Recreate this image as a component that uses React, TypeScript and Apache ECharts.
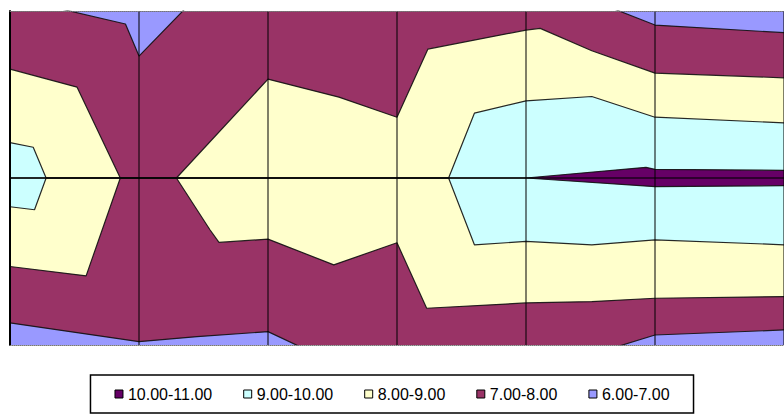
import React, { useEffect, useRef } from "react";
import * as echarts from "echarts";

// Contour bands (legend order) and their colours
const bandNames = ["10.00-11.00", "9.00-10.00", "8.00-9.00", "7.00-8.00", "6.00-7.00"];
const bandColors = ["#660066", "#CCFFFF", "#FFFFCC", "#993366", "#9999FF"];

// Contour boundary lines, [column, level] (level 0..100 from bottom to top of the surface)
const edge67Top = [[0, 102], [0.24, 102], [0.895, 96.1], [1, 86.5], [1.39, 102], [4.59, 102], [5, 95.8], [6, 93.5]];
const edge78Top = [[0, 82.6], [0.52, 77.2], [0.855, 50], [1.29, 50], [2, 79.6], [2.55, 74.2], [3, 68.2], [3.24, 88.6], [4, 94.3], [4.11, 94.8], [4.51, 88.1], [5, 81.4], [6, 80.0]];
const edge89Top = [[0, 60.6], [0.18, 59.2], [0.28, 50], [3.4, 50], [3.6, 69.4], [4, 73.1], [4.51, 74.4], [5, 68.2], [6, 66.5]];
const edge910Top = [[0, 50], [4, 50], [4.93, 53.2], [5, 52.6], [6, 52.3]];
const edge910Bot = [[0, 50], [4, 50], [5, 47.4], [6, 47.7]];
const edge89Bot = [[0, 41.4], [0.19, 40.5], [0.28, 50], [3.4, 50], [3.6, 30.0], [4, 31.0], [4.51, 30.0], [5, 31.5], [6, 30.0]];
const edge78Bot = [[0, 23.5], [0.59, 20.7], [0.855, 50], [1.29, 50], [1.55, 34.5], [1.62, 30.7], [2, 31.7], [2.51, 24.0], [3, 30.6], [3.23, 11.0], [4, 12.6], [4.51, 13.0], [5, 14.0], [6, 14.5]];
const edge67Bot = [[0, 6.6], [1, 1.0], [1.45, 2.5], [2, 4.0], [2.33, -2], [4.58, -2], [5, 3.0], [6, 4.5]];

// Painter's order: each edge fills downward with the band lying below it
const fillEdges = [edge67Top, edge78Top, edge89Top, edge910Top, edge910Bot, edge89Bot, edge78Bot, edge67Bot];
const fillBands = [3, 2, 1, 0, 1, 2, 3, 4];

export default function App() {
  const ref = useRef<HTMLDivElement>(null);
  useEffect(() => {
    document.body.style.margin = "0";
    const chart = echarts.init(ref.current!, null, { renderer: "svg" });
    const fills = fillEdges.map((edge, i) => ({
      type: "line",
      name: bandNames[fillBands[i]],
      data: edge,
      showSymbol: false,
      symbol: "none",
      silent: true,
      clip: true,
      z: 1,
      color: bandColors[fillBands[i]],
      itemStyle: { color: bandColors[fillBands[i]] },
      lineStyle: { width: 0, opacity: 0 },
      areaStyle: { color: bandColors[fillBands[i]], opacity: 1, origin: "start" },
    }));
    const edges = fillEdges.map((edge, i) => ({
      type: "line",
      name: "edge" + i,
      data: edge,
      showSymbol: false,
      symbol: "none",
      silent: true,
      clip: true,
      z: 2,
      lineStyle: { color: "#111", width: 1.2, opacity: 0.9 },
    }));
    const option: any = {
      animation: false,
      grid: {
        left: 10,
        right: -10,
        top: 11,
        bottom: 72,
        show: true,
        backgroundColor: bandColors[4],
        borderWidth: 0,
      },
      xAxis: [
        {
          type: "value",
          min: 0,
          max: 6,
          interval: 1,
          z: 5,
          axisLabel: { show: false },
          axisTick: { show: false },
          axisLine: { show: true, lineStyle: { color: "#777", width: 1, type: "dotted" } },
          splitLine: { show: true, lineStyle: { color: "rgba(0,0,0,0.5)", width: 2 } },
        },
        {
          type: "value",
          position: "top",
          min: 0,
          max: 6,
          interval: 1,
          z: 5,
          axisLabel: { show: false },
          axisTick: { show: false },
          axisLine: { show: true, lineStyle: { color: "#777", width: 1, type: "dotted" } },
          splitLine: { show: false },
        },
      ],
      yAxis: {
        type: "value",
        min: 0,
        max: 100,
        interval: 50,
        z: 5,
        axisLabel: { show: false },
        axisTick: { show: false },
        axisLine: { show: true, lineStyle: { color: "#000", width: 2 } },
        splitLine: {
          show: true,
          lineStyle: { color: ["rgba(0,0,0,0)", "rgba(0,0,0,0.55)", "rgba(0,0,0,0)"], width: 2 },
        },
      },
      legend: {
        top: 375,
        left: "center",
        icon: "rect",
        itemWidth: 8,
        itemHeight: 8,
        itemGap: 31,
        selectedMode: false,
        borderColor: "#000",
        borderWidth: 1.5,
        borderRadius: 0,
        padding: [11, 24, 11, 24],
        textStyle: { color: "#000", fontSize: 16, fontFamily: "Liberation Sans, Arial, sans-serif" },
        itemStyle: { borderColor: "#000", borderWidth: 1 },
        data: bandNames.map((n, i) => ({
          name: n,
          itemStyle: { color: bandColors[i], borderColor: "#000", borderWidth: 1 },
        })),
      },
      series: [...fills, ...edges],
    };
    chart.setOption(option);
    return () => chart.dispose();
  }, []);
  return <div ref={ref} style={{ width: 784, height: 417 }} />;
}
